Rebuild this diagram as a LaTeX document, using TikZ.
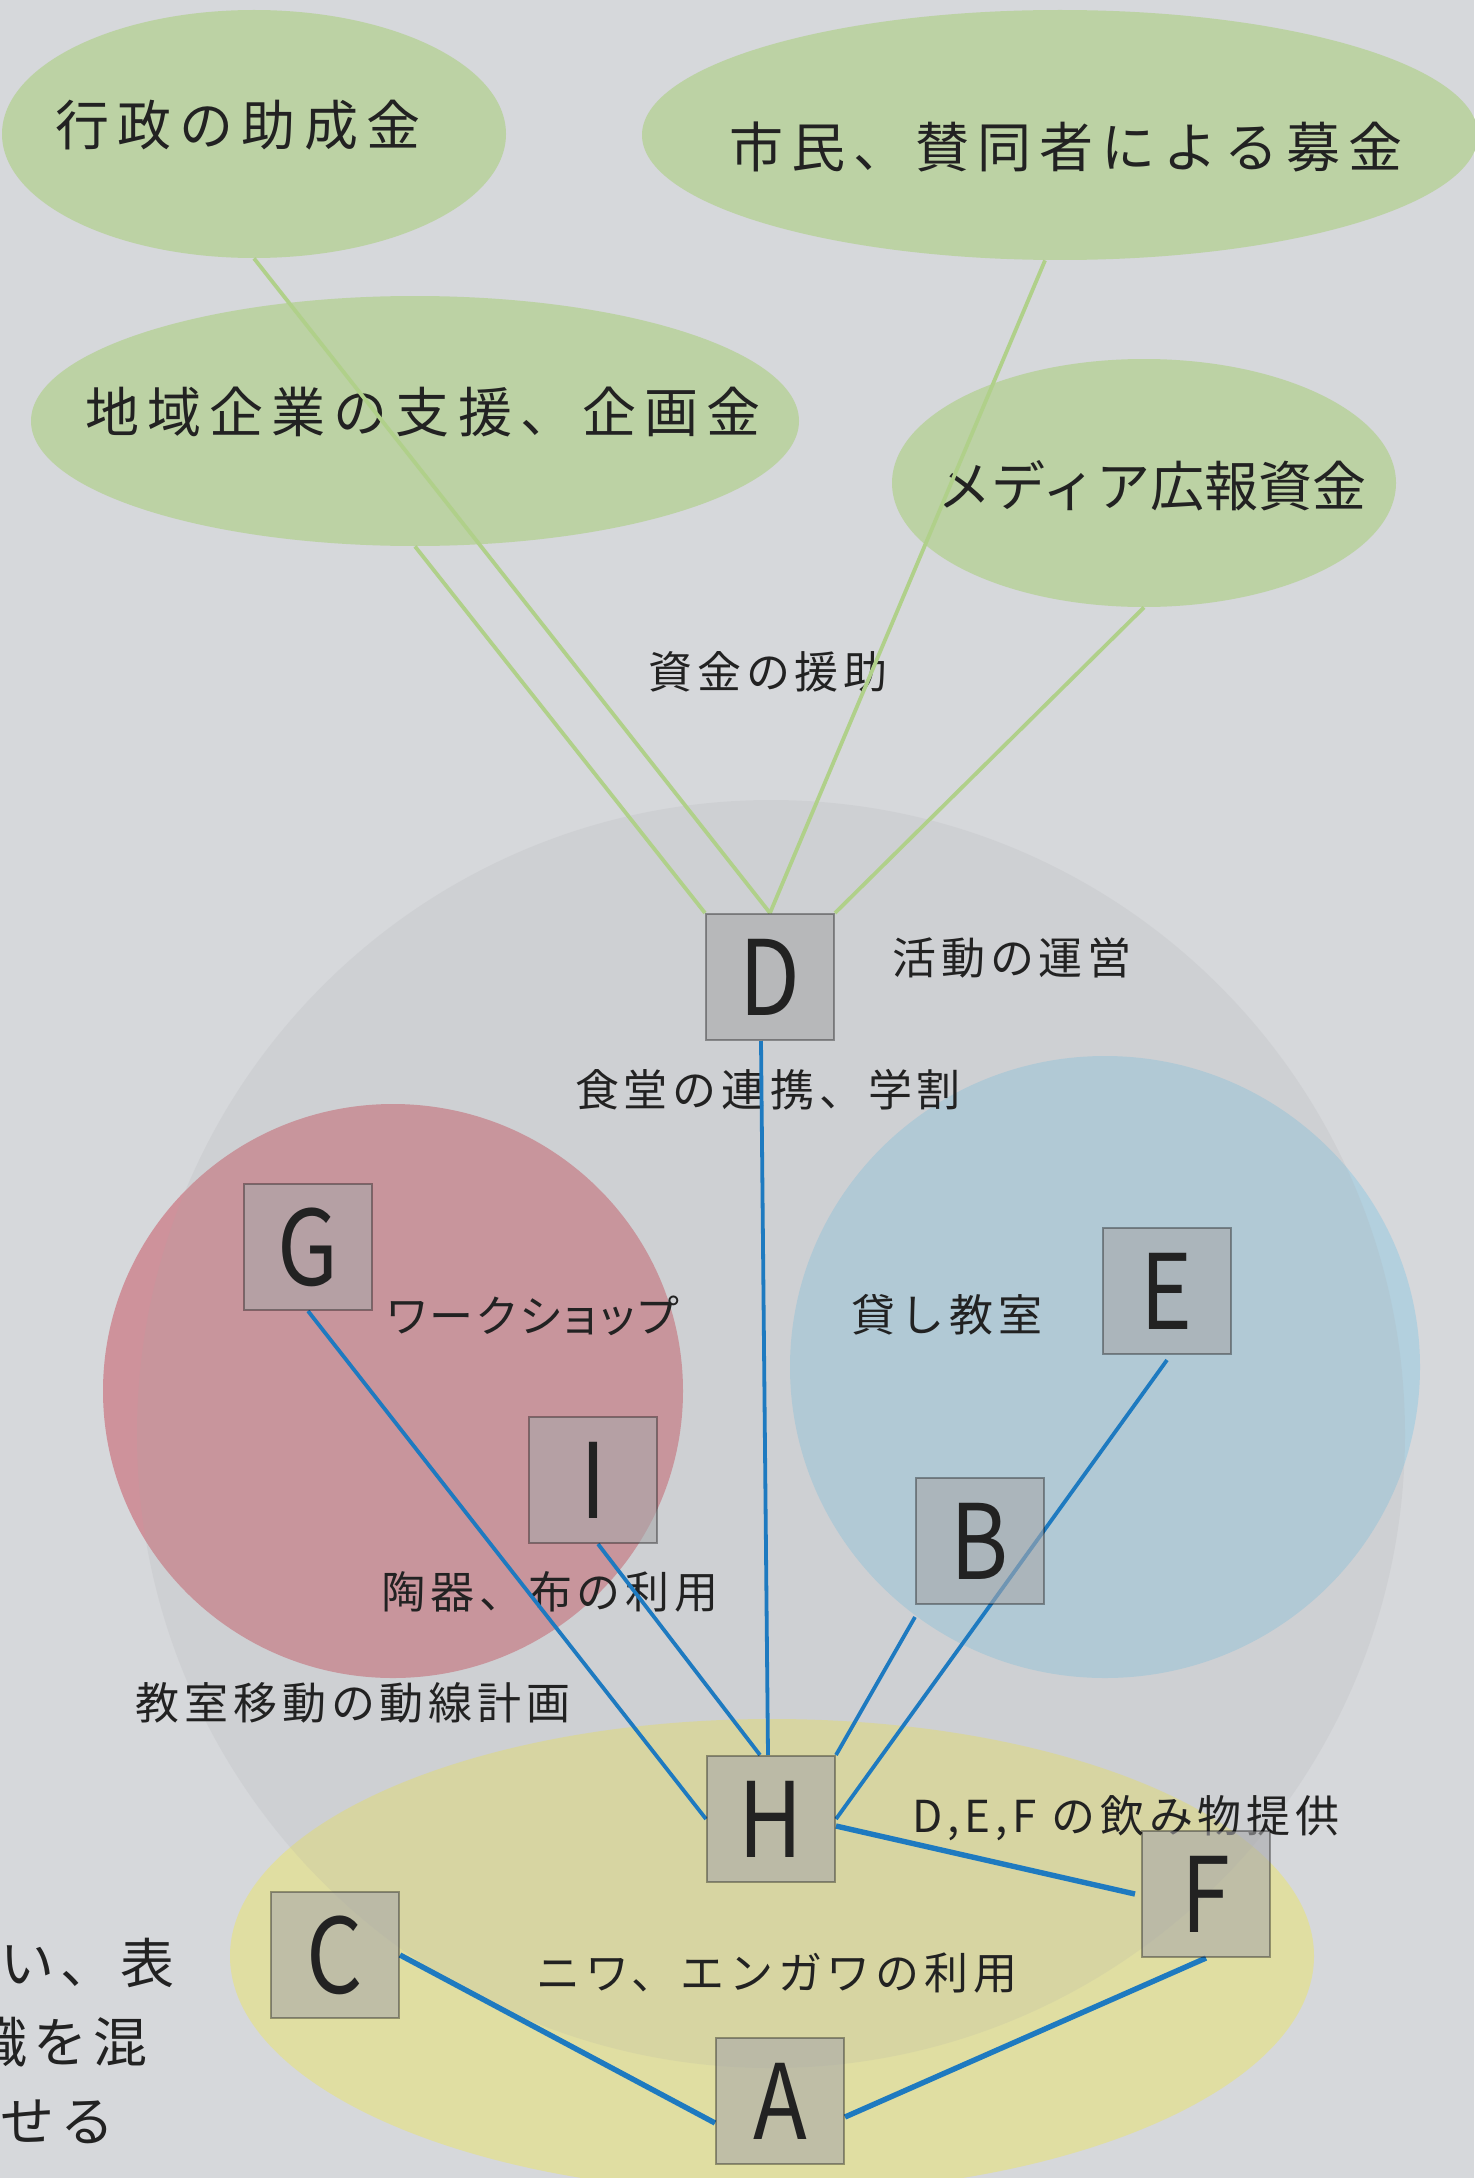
\documentclass[tikz,border=0pt]{standalone}
\usepackage{fontspec}
\usetikzlibrary{shapes.geometric}
\newfontfamily\jpbig[LetterSpace=15]{Noto Sans CJK JP}
\newfontfamily\jpplain{Noto Sans CJK JP}
\newfontfamily\jpmid[LetterSpace=11]{Noto Sans CJK JP}
\newfontfamily\jpmidp[LetterSpace=8,RawFeature=+palt]{Noto Sans CJK JP}
\newfontfamily\letterfont[FakeStretch=0.85]{Noto Sans CJK JP}
\pgfdeclarelayer{back}
\pgfdeclarelayer{mid}
\pgfsetlayers{back,mid,main}
\definecolor{bgc}{RGB}{214,216,219}
\definecolor{gell}{RGB}{188,210,164}
\definecolor{gline}{RGB}{176,208,138}
\definecolor{yel}{RGB}{224,222,162}
\definecolor{redc}{RGB}{206,146,155}
\definecolor{bluec}{RGB}{179,208,222}
\definecolor{graycirc}{RGB}{168,168,168}
\definecolor{boxgray}{RGB}{168,168,170}
\definecolor{blueL}{RGB}{30,122,192}
\definecolor{txt}{RGB}{34,34,34}
\tikzset{
  bigtxt/.style={inner sep=0, text=txt, font=\jpbig\fontsize{27pt}{32pt}\selectfont},
  plaintxt/.style={inner sep=0, text=txt, font=\jpplain\fontsize{27pt}{32pt}\selectfont},
  cuttxt/.style={inner sep=0, text=txt, anchor=west, font=\jpmid\fontsize{27pt}{32pt}\selectfont},
  midtxt/.style={inner sep=0, text=txt, font=\jpmid\fontsize{22pt}{26pt}\selectfont},
  midptxt/.style={inner sep=0, text=txt, font=\jpmidp\fontsize{22pt}{26pt}\selectfont},
  greenell/.style={ellipse, fill=gell, inner sep=0},
  zone/.style={ellipse, inner sep=0},
  lbox/.style={rectangle, draw=black, draw opacity=0.35, line width=1pt, fill=boxgray, fill opacity=0.59, text opacity=1, text=txt, minimum width=64pt, minimum height=63pt, inner sep=0, font=\letterfont\fontsize{52pt}{60pt}\selectfont},
  gl/.style={draw=gline, line width=1.9pt},
  bl/.style={draw=blueL, line width=1.9pt},
  blt/.style={draw=blueL, line width=2.7pt}
}
\begin{document}
\begin{tikzpicture}[x=0.5pt,y=-0.5pt]
\useasboundingbox (0,0) rectangle (1474,2178);
% boxes (main layer)
\node[lbox] (D) at (770,977) {D};
\node[lbox] (G) at (308,1247) {G};
\node[lbox] (I) at (593,1480) {I};
\node[lbox] (E) at (1167,1291) {E};
\node[lbox] (B) at (980,1541) {B};
\node[lbox] (H) at (771,1819) {H};
\node[lbox] (F) at (1206,1894) {F};
\node[lbox] (A) at (780,2101) {A};
\node[lbox] (C) at (335,1955) {C};
\begin{pgfonlayer}{back}
\fill[bgc] (0,0) rectangle (1474,2178);
\node[greenell, minimum width=252pt, minimum height=124pt] (gyo) at (254,134) {};
\node[greenell, minimum width=418pt, minimum height=125pt] (shimin) at (1060,135) {};
\node[greenell, minimum width=384pt, minimum height=125pt] (chiiki) at (415,421) {};
\node[greenell, minimum width=252pt, minimum height=124pt] (media) at (1144,483) {};
\node[zone, fill=yel, minimum width=542pt, minimum height=237pt] (niwa) at (772,1956) {};
\node[zone, fill=redc, minimum width=290pt, minimum height=287pt] (red) at (393,1391) {};
\node[zone, fill=bluec, minimum width=315pt, minimum height=311pt] (blue) at (1105,1367) {};
\node[zone, fill=graycirc, fill opacity=0.154, minimum width=634pt, minimum height=634pt] (big) at (771,1434) {};
% labels
\node[bigtxt] (tgyo) at (238,125) {行政の助成金};
\node[bigtxt] (tshimin) at (1066,147) {市民、賛同者による募金};
\node[bigtxt] (tchiiki) at (423,412) {地域企業の支援、企画金};
\node[plaintxt] (tmedia) at (1152,486) {メディア広報資金};
\node[midtxt] (tshikin) at (768,672) {資金の援助};
\node[midtxt] (tkatsudo) at (1012,958) {活動の運営};
\node[midtxt] (tshokudo) at (768,1090) {食堂の連携、学割};
\node[midptxt] (tws) at (533,1316) {ワークショップ};
\node[midtxt] (tkashi) at (947,1315) {貸し教室};
\node[midtxt] (ttoki) at (550,1592) {陶器、布の利用};
\node[midtxt] (tkyo) at (353,1703) {教室移動の動線計画};
\node[midtxt] (tdef) at (1126,1818) {D,E,F の飲み物提供};
\node[midtxt] (tniwa) at (777,1973) {ニワ、エンガワの利用};
\node[cuttxt] (cut1) at (0,1963) {い、表};
\node[cuttxt] (cut2) at (-27,2042) {識を混};
\node[cuttxt] (cut3) at (0,2122) {せる};
\end{pgfonlayer}
\begin{pgfonlayer}{mid}
\draw[gl] (gyo.south) -- (D.north);
\draw[gl] (chiiki.south) -- (D.north west);
\draw[gl] ([xshift=-7.5pt]shimin.south) -- (D.north);
\draw[gl] (media.south) -- (D.north east);
\draw[bl] ([xshift=-4.5pt]D.south) -- ([xshift=-1.5pt]H.north);
\draw[bl] (G.south) -- (H.west);
\draw[bl] ([xshift=2.5pt]I.south) -- ([xshift=-5.5pt]H.north);
\draw[bl] ([yshift=-6pt]B.south west) -- (H.north east);
\draw[bl] ([yshift=-2.5pt]E.south) -- (H.east);
\draw[blt] ([yshift=-3.5pt]H.east) -- ([xshift=-3pt]F.west);
\draw[blt] (F.south) -- ([yshift=-8pt]A.east);
\draw[blt] (C.east) -- ([yshift=-11pt]A.west);
\end{pgfonlayer}
\end{tikzpicture}
\end{document}
